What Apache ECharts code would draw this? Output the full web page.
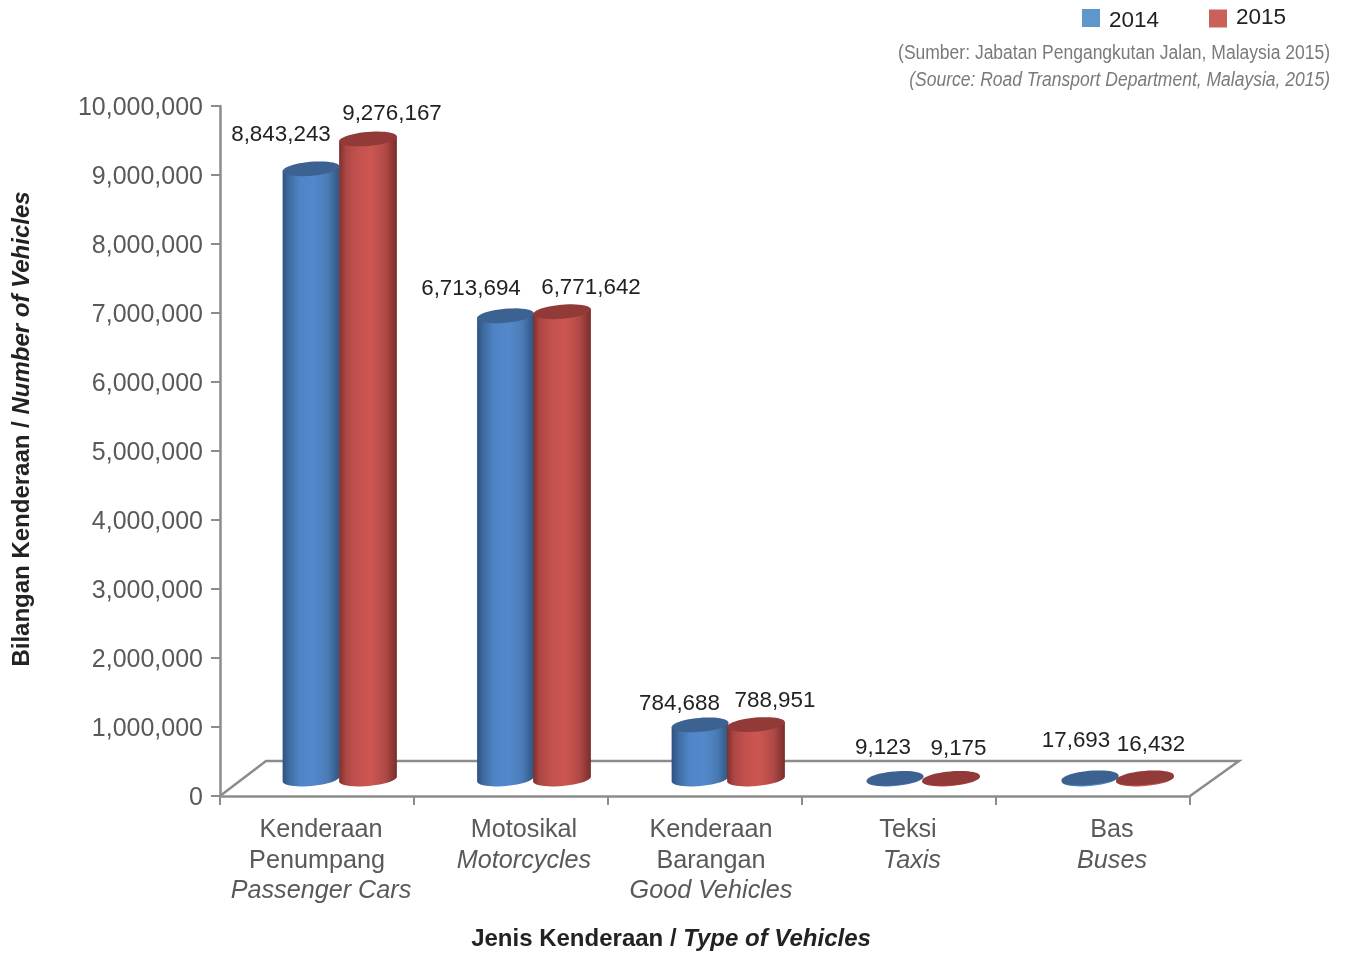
<!DOCTYPE html>
<html><head><meta charset="utf-8">
<style>html,body{margin:0;padding:0;background:#fff}#c{width:1346px;height:956px}</style>
<script src="https://cdn.jsdelivr.net/npm/echarts@6/dist/echarts.min.js"></script>
</head><body><div id="c"></div>
<script>
// ---- data ----
const categories = ['Kenderaan\nPenumpang\n*Passenger Cars', 'Motosikal\n*Motorcycles', 'Kenderaan\nBarangan\n*Good Vehicles', 'Teksi\n*Taxis', 'Bas\n*Buses'];
const values2014 = [8843243, 6713694, 784688, 9123, 17693];
const values2015 = [9276167, 6771642, 788951, 9175, 16432];
const yTicks = { min: 0, max: 10000000, interval: 1000000 };
const sourceLines = ['(Sumber: Jabatan Pengangkutan Jalan, Malaysia 2015)', '(Source: Road Transport Department, Malaysia, 2015)'];
// ---- layout nudges (px), not data ----
const categoryShift = [4, 13, 6, 13, 19];
const shiftedLines = ['Penumpang', 'Teksi'];
const bandDrift2014 = [0, 0.5, 1, 2, 3];
const bandDrift2015 = [0, 0, 0, 1, 1];
const labelNudge2014 = [[-30, -34], [-34.5, -27], [-20.5, -21], [-12, -31], [-14, -37]];
const labelNudge2015 = [[24, -25], [29, -24], [19, -24], [7.5, -30], [6, -33]];

const fmt = v => v.toLocaleString('en-US');
const LIFT = 17, RY = 7, TILT = -5 * Math.PI / 180;
function ringPt(cx, cy, rx, t) {
  const x = rx * Math.cos(t), y = RY * Math.sin(t);
  return [cx + x * Math.cos(TILT) - y * Math.sin(TILT), cy + x * Math.sin(TILT) + y * Math.cos(TILT)];
}
function ellipsePts(cx, cy, rx) {
  const p = [];
  for (let i = 0; i < 48; i++) p.push(ringPt(cx, cy, rx, i / 48 * 2 * Math.PI));
  return p;
}
function cylinder(dx, drift, rx, stops, topColor, nudges) {
  return function (params, api) {
    const i = api.value(0), v = api.value(1);
    const bandCx = api.coord([i, 0])[0] + dx + drift[i];
    const baseY = api.coord([i, 0])[1] - LIFT;
    const topY = api.coord([i, v])[1] - LIFT;
    const body = [];
    for (let k = 0; k <= 24; k++) body.push(ringPt(bandCx, baseY, rx, k / 24 * Math.PI));
    const bodyPts = [ringPt(bandCx, topY, rx, Math.PI)].concat(body.slice().reverse()).concat([ringPt(bandCx, topY, rx, 0)]);
    const n = nudges[i];
    return {
      type: 'group',
      children: [
        { type: 'polygon', shape: { points: bodyPts }, style: { fill: new echarts.graphic.LinearGradient(0, 0, 1, 0, stops) } },
        { type: 'polygon', shape: { points: ellipsePts(bandCx, topY, rx) }, style: { fill: topColor } },
        { type: 'text', x: bandCx + n[0], y: topY + n[1], style: { text: fmt(v), align: 'center', verticalAlign: 'middle', fontFamily: 'Liberation Sans', fontSize: 22.4, fill: '#222222' } }
      ]
    };
  };
}
const blueStops = [
  { offset: 0, color: '#2f527f' }, { offset: 0.12, color: '#3f6ca3' }, { offset: 0.3, color: '#4f84c6' },
  { offset: 0.55, color: '#5389cc' }, { offset: 0.8, color: '#4a7bb5' }, { offset: 1, color: '#2f5480' }];
const redStops = [
  { offset: 0, color: '#7d2f2d' }, { offset: 0.12, color: '#ad4744' }, { offset: 0.3, color: '#c2504d' },
  { offset: 0.55, color: '#cd5651' }, { offset: 0.8, color: '#b04a47' }, { offset: 1, color: '#7a2d2b' }];

function floor(params, api) {
  const cs = params.coordSys, bx = cs.x, by = cs.y + cs.height, w = cs.width, dx = 46, dy = 35;
  return {
    type: 'polyline', silent: true,
    shape: { points: [[bx, by], [bx + dx, by - dy], [bx + w + dx + 3, by - dy], [bx + w, by]] },
    style: { stroke: '#8c8c8c', lineWidth: 2.5, fill: null }
  };
}

const chart = echarts.init(document.getElementById('c'), null, { renderer: 'canvas' });
const toRich = s => s.split('\n').map(l => l[0] === '*' ? '{b|' + l.slice(1) + '}' : (shiftedLines.includes(l) ? '{c|' : '{a|') + l + '}').join('\n');
const catText = { fontFamily: 'Liberation Sans', fontSize: 25.2, color: '#595959', lineHeight: 30.5 };
const legendText = pad => ({ fontFamily: 'Liberation Sans', fontSize: 22.5, color: '#222222', rich: { t: { fontFamily: 'Liberation Sans', fontSize: 22.5, color: '#222222', padding: pad } } });
const sourceStyle = { fontFamily: 'Liberation Sans', fontSize: 20, fill: '#7a7a7a', align: 'right', verticalAlign: 'middle' };
chart.setOption({
  animation: false,
  backgroundColor: '#ffffff',
  graphic: [
    { type: 'text', x: 1330, y: 53, scaleX: 0.875, silent: true, style: Object.assign({ text: sourceLines[0] }, sourceStyle) },
    { type: 'text', x: 1330, y: 80, scaleX: 0.875, silent: true, style: Object.assign({ text: sourceLines[1], fontStyle: 'italic' }, sourceStyle) }
  ],
  legend: [
    { left: 1080, top: 7, data: ['2014'], icon: 'rect', itemWidth: 18, itemHeight: 18, itemGap: 15, selectedMode: false, padding: 2,
      formatter: '{t|{name}}', textStyle: legendText([6, 0, 0, 4]) },
    { left: 1207, top: 4, data: ['2015'], icon: 'rect', itemWidth: 18, itemHeight: 18, itemGap: 15, selectedMode: false, padding: 2,
      formatter: '{t|{name}}', textStyle: legendText([0, 0, 2, 4]) }
  ],
  grid: { left: 220, right: 156, top: 106, bottom: 158 },
  xAxis: {
    type: 'category',
    data: categories.map((c, i) => ({ value: c, textStyle: { padding: [0, 0, 0, categoryShift[i] * 2] } })),
    name: '{a|Jenis Kenderaan / }{b|Type of Vehicles}',
    nameLocation: 'middle', nameGap: 131,
    nameTextStyle: { padding: [0, 68, 0, 0], rich: {
      a: { fontFamily: 'Liberation Sans', fontWeight: 'bold', fontSize: 24, color: '#222222' },
      b: { fontFamily: 'Liberation Sans', fontWeight: 'bold', fontStyle: 'italic', fontSize: 24, color: '#222222' } } },
    axisLine: { lineStyle: { color: '#8c8c8c', width: 2.5 } },
    axisTick: { show: true, length: 9, lineStyle: { color: '#8c8c8c', width: 2 } },
    axisLabel: {
      interval: 0, margin: 19, formatter: toRich,
      rich: {
        a: catText,
        b: Object.assign({ fontStyle: 'italic' }, catText),
        c: Object.assign({ padding: [0, 8, 0, 0] }, catText)
      }
    }
  },
  yAxis: {
    type: 'value', min: yTicks.min, max: yTicks.max, interval: yTicks.interval,
    name: '{a|Bilangan Kenderaan / }{b|Number of Vehicles}',
    nameLocation: 'middle', nameGap: 186, nameRotate: 90,
    nameTextStyle: { padding: [0, 0, 0, 44], rich: {
      a: { fontFamily: 'Liberation Sans', fontWeight: 'bold', fontSize: 24, color: '#222222' },
      b: { fontFamily: 'Liberation Sans', fontWeight: 'bold', fontStyle: 'italic', fontSize: 24, color: '#222222' } } },
    splitLine: { show: false },
    axisLine: { show: true, lineStyle: { color: '#8c8c8c', width: 2.5 } },
    axisTick: { show: true, length: 9, lineStyle: { color: '#8c8c8c', width: 2 } },
    axisLabel: { margin: 17, formatter: v => '{t|' + fmt(v) + '}', rich: { t: { fontFamily: 'Liberation Sans', fontSize: 25, color: '#595959', padding: [4, 0, 0, 0] } } }
  },
  series: [
    { type: 'custom', name: 'floor', renderItem: floor, data: [[0, 0]], silent: true, clip: false, z: 1 },
    { type: 'custom', name: '2014', coordinateSystem: 'cartesian2d', clip: false, z: 2,
      renderItem: cylinder(-6, bandDrift2014, 28.5, blueStops, '#3b6291', labelNudge2014),
      itemStyle: { color: '#5f96cb' }, encode: { x: 0, y: 1 },
      data: values2014.map((v, i) => [i, v]) },
    { type: 'custom', name: '2015', coordinateSystem: 'cartesian2d', clip: false, z: 3,
      renderItem: cylinder(51, bandDrift2015, 29, redStops, '#923a38', labelNudge2015),
      itemStyle: { color: '#cb605a' }, encode: { x: 0, y: 1 },
      data: values2015.map((v, i) => [i, v]) }
  ]
});
</script></body></html>
